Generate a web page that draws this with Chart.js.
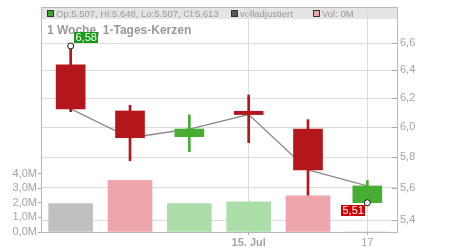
<!DOCTYPE html>
<html>
<head>
<meta charset="utf-8">
<script src="https://cdn.jsdelivr.net/npm/chart.js@4/dist/chart.umd.min.js"></script>
<style>
html,body{margin:0;padding:0;background:#fff;}
#wrap{width:450px;height:250px;}
</style>
</head>
<body>
<div id="wrap"><canvas id="c" width="450" height="250"></canvas></div>
<script>
// ---- data ----
const days = ['10.07', '11.07', '12.07', '15.07', '16.07', '17.07'];
const xTickLabels = ['', '', '', '15. Jul', '', '17'];
const opens  = [6.440, 6.112, 5.936, 6.110, 5.988, 5.507];
const highs  = [6.580, 6.152, 6.085, 6.224, 6.052, 5.648];
const lows   = [6.107, 5.776, 5.836, 5.896, 5.530, 5.507];
const closes = [6.126, 5.929, 5.988, 6.087, 5.716, 5.613];
const volumes = [1.95, 3.55, 1.95, 2.08, 2.48, 0];   // millions
const priceTicks = [5.4, 5.6, 5.8, 6.0, 6.2, 6.4, 6.6];
const volumeTicks = [0, 1, 2, 3, 4];
const headerTitle = '1 Woche, 1-Tages-Kerzen';
const legendItems = [
  { text: 'Op:5.507, Hi:5.648, Lo:5.507, Cl:5.613', color: '#3fa52c' },
  { text: 'volladjustiert', color: '#555555' },
  { text: 'Vol: 0M', color: '#eea6ad' }
];

// ---- styles ----
const RED = '#b3161b', GREEN = '#47ad33';
const FONT = "'Liberation Sans', Arial, sans-serif";
const TICK_COLOR = '#a4a4a4';
const GRID = '#dcdcdc';
const BORDER = '#b8b8b8';

const candleColors = opens.map((o, i) => closes[i] >= o ? GREEN : RED);
const volColors = closes.map((c, i) => i === 0 ? '#c0c0c0' : (c >= closes[i - 1] ? '#acdeaa' : '#eea6ad'));
const hiIdx = highs.indexOf(Math.max(...highs));
const loIdx = lows.lastIndexOf(Math.min(...lows));
const markerData = days.map((d, i) => i === hiIdx ? highs[i] : (i === loIdx ? lows[i] : null));
const fmt = v => v.toFixed(2).replace('.', ',');

const headerPlugin = {
  id: 'header',
  beforeDraw(chart) {
    const { ctx, chartArea: a } = chart;
    ctx.save();
    ctx.fillStyle = '#e4e4e4';
    ctx.fillRect(a.left, a.top, a.right - a.left, 12);
    ctx.font = '9.5px ' + FONT;
    ctx.textBaseline = 'middle';
    const xs = [47, 231, 313];
    legendItems.forEach((it, k) => {
      const x = xs[k];
      ctx.fillStyle = it.color;
      ctx.fillRect(x + 0.5, a.top + 3.5, 6, 6);
      ctx.strokeStyle = '#333';
      ctx.lineWidth = 1;
      ctx.strokeRect(x + 0.5, a.top + 3.5, 6, 6);
      ctx.fillStyle = '#9a9a9a';
      ctx.fillText(it.text, x + 9, a.top + 7);
    });
    ctx.font = 'bold 12px ' + FONT;
    ctx.fillStyle = '#999';
    ctx.textBaseline = 'alphabetic';
    ctx.fillText(headerTitle, 47, a.top + 27);
    ctx.restore();
  },
  afterDraw(chart) {
    const { ctx, chartArea: a } = chart;
    ctx.save();
    ctx.strokeStyle = BORDER;
    ctx.lineWidth = 1;
    ctx.beginPath();
    ctx.moveTo(a.left, a.top + 0.5);
    ctx.lineTo(a.right, a.top + 0.5);
    ctx.stroke();
    const ys = chart.scales.y;
    ctx.strokeStyle = '#a8a8a8';
    ys.ticks.forEach(t => {
      const y = Math.round(ys.getPixelForValue(t.value)) + 0.5;
      ctx.beginPath();
      ctx.moveTo(a.right - 5, y);
      ctx.lineTo(a.right, y);
      ctx.stroke();
    });
    const meta = chart.getDatasetMeta(4);
    ctx.font = '11px ' + FONT;
    ctx.textBaseline = 'middle';
    [[hiIdx, highs[hiIdx], '#169b16', 'hi'], [loIdx, lows[loIdx], '#cc0000', 'lo']].forEach(([i, v, bg, kind]) => {
      const el = meta.data[i];
      const txt = fmt(v);
      const w = ctx.measureText(txt).width + 3;
      const h = 11;
      let bx, by;
      if (kind === 'hi') { bx = el.x + 3; by = el.y - 3 - h; }
      else { bx = el.x - 2 - w; by = el.y + 2.5; }
      ctx.fillStyle = bg;
      ctx.fillRect(Math.round(bx), Math.round(by), Math.round(w), h);
      ctx.fillStyle = '#fff';
      ctx.fillText(txt, Math.round(bx) + 1.5, Math.round(by) + h / 2 + 0.5);
    });
    ctx.restore();
  }
};

new Chart(document.getElementById('c'), {
  type: 'bar',
  data: {
    labels: days,
    datasets: [
      { type: 'bar', yAxisID: 'yv', data: volumes, backgroundColor: volColors,
        barThickness: 44, grouped: false, order: 1 },
      { type: 'bar', yAxisID: 'y', data: opens.map((o, i) => [o, closes[i]]),
        backgroundColor: candleColors, barThickness: 29, grouped: false, order: 2 },
      { type: 'bar', yAxisID: 'y', data: lows.map((l, i) => [l, highs[i]]),
        backgroundColor: candleColors, barThickness: 2, grouped: false, order: 3 },
      { type: 'line', yAxisID: 'y', data: closes, borderColor: '#8a8a8a', borderWidth: 1.3,
        pointRadius: 0, tension: 0, order: 4 },
      { type: 'line', yAxisID: 'y', data: markerData, showLine: false,
        pointRadius: 3, pointBorderColor: '#111', pointBackgroundColor: '#fff', pointBorderWidth: 1,
        order: 0 }
    ]
  },
  options: {
    responsive: false,
    animation: false,
    devicePixelRatio: 1,
    layout: { padding: { top: 7, left: 0, right: 0, bottom: 0 } },
    plugins: { legend: { display: false }, tooltip: { enabled: false } },
    scales: {
      x: {
        type: 'category', offset: true,
        grid: {
          offset: false,
          color: c => (c.index === 3 || c.index === 5) ? GRID : 'rgba(0,0,0,0)',
          tickColor: c => (c.index === 3 || c.index === 5) ? '#aaa' : 'rgba(0,0,0,0)',
          tickLength: 3
        },
        border: { color: BORDER },
        ticks: {
          autoSkip: false, maxRotation: 0, padding: 1, color: TICK_COLOR,
          font: c => ({ family: FONT, size: 11, weight: c.index === 3 ? 'bold' : 'normal' }),
          callback: (v, i) => xTickLabels[i]
        },
        afterFit: s => { s.height = 18; s.paddingLeft = 0; s.paddingRight = 0; }
      },
      y: {
        type: 'logarithmic', position: 'right', min: 5.327, max: 6.878, bounds: 'data',
        grid: { color: GRID, drawTicks: false },
        border: { color: BORDER },
        afterBuildTicks: s => { s.min = 5.327; s.max = 6.878; s.ticks = priceTicks.map(v => ({ value: v })); },
        ticks: {
          padding: 3, color: TICK_COLOR, font: { family: FONT, size: 11 },
          callback: v => v.toFixed(1).replace('.', ',')
        },
        afterFit: s => { s.width = 53; s.paddingTop = 0; s.paddingBottom = 0; }
      },
      yv: {
        type: 'linear', position: 'left', min: 0, max: 15.46,
        grid: { drawOnChartArea: false, tickLength: 3, tickColor: '#aaa' },
        border: { color: BORDER },
        afterBuildTicks: s => { s.ticks = volumeTicks.map(v => ({ value: v })); },
        ticks: {
          padding: 1, color: TICK_COLOR, font: { family: FONT, size: 11 },
          callback: v => v.toFixed(1).replace('.', ',') + 'M'
        },
        afterFit: s => { s.width = 41; s.paddingTop = 0; s.paddingBottom = 0; }
      }
    }
  },
  plugins: [headerPlugin]
});
</script>
</body>
</html>
